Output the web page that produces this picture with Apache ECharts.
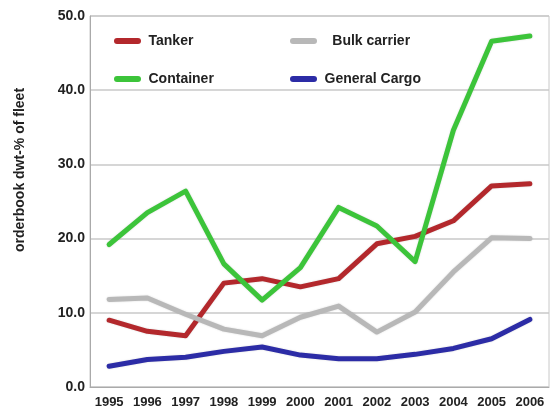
<!DOCTYPE html>
<html>
<head>
<meta charset="utf-8">
<script src="https://cdn.jsdelivr.net/npm/echarts@6/dist/echarts.min.js"></script>
<style>html,body{margin:0;padding:0;background:#fff}#c{width:552px;height:410px}</style>
</head>
<body>
<div id="c"></div>
<script>
var years = ['1995','1996','1997','1998','1999','2000','2001','2002','2003','2004','2005','2006'];
var tanker = [9.0, 7.5, 6.9, 14.0, 14.6, 13.5, 14.6, 19.3, 20.3, 22.4, 27.1, 27.4];
var container = [19.2, 23.5, 26.4, 16.6, 11.7, 16.1, 24.2, 21.7, 16.9, 34.6, 46.6, 47.3];
var bulk = [11.8, 12.0, 9.8, 7.8, 6.9, 9.4, 10.9, 7.4, 10.1, 15.5, 20.1, 20.0];
var general = [2.8, 3.7, 4.0, 4.8, 5.4, 4.3, 3.8, 3.8, 4.4, 5.2, 6.5, 9.1];
var yTicks = [0, 10, 20, 30, 40, 50];
var yTitle = 'orderbook dwt-% of fleet';

var font = 'Liberation Sans, Arial, sans-serif';
var icon = 'path://M3,0 L24,0 A3,3 0 0 1 24,6 L3,6 A3,3 0 0 1 3,0 Z';
function mk(name, data, color) {
  return {
    name: name, type: 'line', data: data, symbol: 'none',
    lineStyle: {width: 5, color: color, cap: 'round', join: 'round',
      shadowColor: 'rgba(0,0,0,0.15)', shadowBlur: 2},
    itemStyle: {color: color}
  };
}
var legendText = {fontFamily: font, fontWeight: 'bold', fontSize: 14, color: '#222', padding: [0,0,0,2]};
var chart = echarts.init(document.getElementById('c'), null, {renderer: 'canvas'});
chart.setOption({
  animation: false,
  backgroundColor: '#fff',
  grid: {left: 90, right: 3, top: 16, bottom: 23, show: true, borderColor: '#c8c8c8', borderWidth: 1},
  legend: [
    {data: ['Tanker', 'Container'], orient: 'vertical', left: 109, top: 29, itemGap: 24,
      itemWidth: 28, itemHeight: 6, icon: icon, textStyle: legendText},
    {data: ['Bulk carrier', 'General Cargo'], orient: 'vertical', left: 285, top: 29, itemGap: 24,
      itemWidth: 28, itemHeight: 6, icon: icon, textStyle: legendText,
      formatter: function (n) { return n === 'Bulk carrier' ? '  ' + n : n; }}
  ],
  graphic: [{
    type: 'text', x: 20, y: 170, rotation: Math.PI / 2,
    style: {text: yTitle, font: 'bold 14px Liberation Sans, Arial, sans-serif', fill: '#222',
      align: 'center', verticalAlign: 'middle'}
  }],
  xAxis: {
    type: 'category', data: years, boundaryGap: true,
    axisLine: {lineStyle: {color: '#aaa'}},
    axisTick: {alignWithLabel: true, length: 5, lineStyle: {color: '#aaa'}},
    axisLabel: {fontFamily: font, fontWeight: 'bold', fontSize: 13, color: '#222', margin: 9}
  },
  yAxis: {
    type: 'value', min: 0, max: 50, interval: 10,
    axisLine: {show: true, lineStyle: {color: '#aaa'}},
    axisTick: {show: false},
    splitLine: {lineStyle: {color: '#c8c8c8', width: 1.5}},
    axisLabel: {fontFamily: font, fontWeight: 'bold', fontSize: 14, color: '#222', margin: 5,
      formatter: function (v) { return yTicks.indexOf(v) >= 0 ? v.toFixed(1) : ''; }}
  },
  series: [
    mk('Tanker', tanker, '#b3282c'),
    mk('Bulk carrier', bulk, '#b8b8b8'),
    mk('Container', container, '#3cc43a'),
    mk('General Cargo', general, '#2c2ca6')
  ]
});
</script>
</body>
</html>
